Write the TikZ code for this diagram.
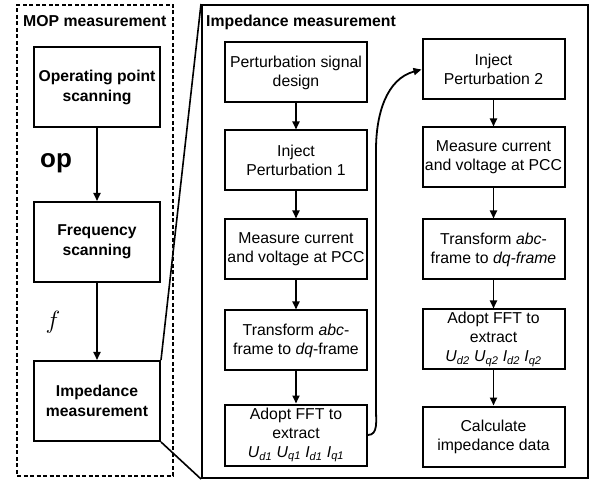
\documentclass[tikz,border=0pt]{standalone}
\usepackage{fontspec}
\setmainfont{Liberation Sans}
\usepackage{tikz}
\usetikzlibrary{shapes,arrows,arrows.meta,positioning,calc}

\newcommand{\idx}[2]{\textit{#1}\textsubscript{\textit{#2}}}

\begin{document}
\begin{tikzpicture}[x=1pt, y=-1pt,
    stepbox/.style={rectangle, draw, line width=2pt, align=center, minimum width=142pt, minimum height=60pt, inner sep=1pt, font=\fontsize{15.8}{19}\selectfont},
    mopbox/.style={stepbox, minimum width=126pt, minimum height=80pt, font=\fontsize{15.7}{20}\selectfont\bfseries},
    frametitle/.style={anchor=base west, inner sep=0pt, font=\fontsize{15.8}{19}\selectfont\bfseries},
    arrow/.style={->, >={Triangle[length=8pt, width=7pt]}, line width=1.8pt},
    link/.style={line width=1.6pt}
]
    \useasboundingbox (0,0) rectangle (595,481);

    % frames
    \node[draw, line width=2pt, dash pattern=on 4pt off 2.5pt, minimum width=156pt, minimum height=471pt, inner sep=0pt] (mopframe) at (95,240.5) {};
    \node[draw, line width=2pt, minimum width=386pt, minimum height=473pt, inner sep=0pt] (impframe) at (395,241.5) {};
    \node[frametitle] (moptitle) at (23,27) {MOP measurement};
    \node[frametitle] (imptitle) at (206,27) {Impedance measurement};

    % MOP measurement
    \node[mopbox] (opscan) at (97,87) {Operating point\\scanning};
    \node[mopbox, below=73pt of opscan] (freqscan) {Frequency\\scanning};
    \node[mopbox, below=77pt of freqscan] (impmeas) {Impedance\\measurement};
    \node[anchor=base west, inner sep=0pt, font=\fontsize{26}{26}\selectfont\bfseries] (oplabel) at (40,168) {op};
    \node[font=\fontsize{24}{24}\selectfont] (flabel) at (53,322) {$f$};

    \draw[arrow] (opscan) -- (freqscan);
    \draw[arrow] (freqscan) -- (impmeas);

    % zoom lines
    \draw[link] (impmeas.north east) -- (impframe.north west);
    \draw[link] (impmeas.south east) -- (impframe.south west);

    % first injection
    \node[stepbox] (design) at (296,72.5) {Perturbation signal\\design};
    \node[stepbox, below=26pt of design] (inject1) {Inject\\Perturbation 1};
    \node[stepbox, below=27pt of inject1] (measure1) {Measure current\\and voltage at PCC};
    \node[stepbox, below=29pt of measure1] (transform1) {Transform \textit{abc}-\\frame to \textit{dq}-frame};
    \node[stepbox, minimum height=61pt, below=32pt of transform1] (fft1) {Adopt FFT to\\extract\\\idx{U}{d1} \idx{U}{q1} \idx{I}{d1} \idx{I}{q1}};

    % second injection
    \node[stepbox] (inject2) at (493.5,69.5) {Inject\\Perturbation 2};
    \node[stepbox, below=26pt of inject2] (measure2) {Measure current\\and voltage at PCC};
    \node[stepbox, below=30pt of measure2] (transform2) {Transform \textit{abc}-\\frame to \textit{dq-frame}};
    \node[stepbox, below=28pt of transform2] (fft2) {Adopt FFT to\\extract\\\idx{U}{d2} \idx{U}{q2} \idx{I}{d2} \idx{I}{q2}};
    \node[stepbox, below=35pt of fft2] (calc) {Calculate\\impedance data};

    \draw[arrow] (design) -- (inject1);
    \draw[arrow] (inject1) -- (measure1);
    \draw[arrow] (measure1) -- (transform1);
    \draw[arrow] (transform1) -- (fft1);

    \coordinate (bendlow) at (376,410);
    \coordinate (bendhigh) at (376,150);
    \draw[arrow] (fft1.east) to[out=0, in=-90] (bendlow) -- (bendhigh) to[out=90, in=195] (inject2.west);

    \draw[arrow] (inject2) -- (measure2);
    \draw[arrow] (measure2) -- (transform2);
    \draw[arrow] (transform2) -- (fft2);
    \draw[arrow] (fft2) -- (calc);
\end{tikzpicture}
\end{document}
